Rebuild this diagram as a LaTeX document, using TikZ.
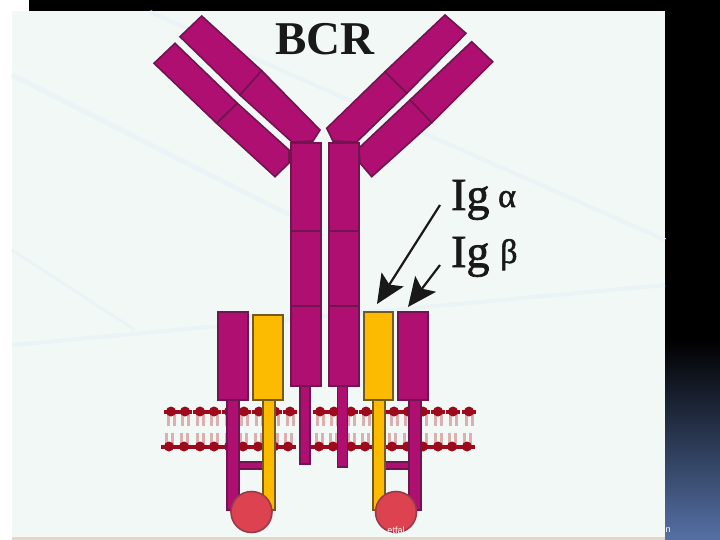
\documentclass[tikz,border=0pt]{standalone}
\usepackage{fontspec}
\setmainfont{Liberation Serif}
\setsansfont{Liberation Sans}
\newfontfamily\fatserif[FakeBold=1.6]{Liberation Serif}
\usetikzlibrary{arrows.meta,calc}
\definecolor{panel}{HTML}{F2F8F6}
\definecolor{streak}{HTML}{EAF3F5}
\definecolor{mag}{HTML}{AE0F70}
\definecolor{magd}{HTML}{701550}
\definecolor{gold}{HTML}{FDBB00}
\definecolor{goldd}{HTML}{735A1C}
\definecolor{dotred}{HTML}{DC4250}
\definecolor{dotd}{HTML}{9A3A48}
\definecolor{head}{HTML}{9C0A1C}
\definecolor{tailc}{HTML}{DDB0B0}
\definecolor{deck}{HTML}{5570A5}
\tikzset{
  x=1pt,y=-1pt,
  magbox/.style={draw=magd,fill=mag,line width=1.6pt},
  goldbox/.style={draw=goldd,fill=gold,line width=1.6pt},
  block/.style={magbox,rectangle,inner sep=0pt,minimum width=#1},
  pn/.style={draw=none,fill=none,inner sep=0pt,font=\fatserif\fontsize{46}{46}\selectfont,text=black!90},
  titlelab/.style={draw=none,fill=none,inner sep=0pt,font=\bfseries\fontsize{47}{47}\selectfont,text=black!90},
  greek/.style={draw=none,fill=none,inner sep=0pt,font=\fatserif\fontsize{34}{34}\selectfont,text=black!90},
  pointer/.style={draw=black!90,line width=2.2pt,-{Stealth[length=29pt,width=26pt,inset=6pt]}},
  dot/.style={circle,draw=dotd,fill=dotred,line width=1.6pt,minimum size=41pt,inner sep=0pt},
  lipidhead/.style={fill=head,draw=none},
  lipidtail/.style={draw=tailc,line width=3pt},
  mark text/.style={draw=none,fill=none,inner sep=0pt,text=white,font=\sffamily\fontsize{9}{9}\selectfont},
}
\begin{document}
\begin{tikzpicture}
\useasboundingbox (0,0) rectangle (720,540);
% slide
\fill[white] (0,0) rectangle (720,540);
\fill[black] (29,0) rectangle (720,340);
\shade[top color=black,bottom color=deck] (665,340) rectangle (720,540);
\fill[panel] (12,11) rectangle (665,537);
\fill[black!12!white!90!orange] (12,537) rectangle (665,540);
% faint streaks
\draw[streak,line width=5pt] (12,75) -- (290,215);
\draw[streak,line width=4pt] (150,12) -- (665,240);
\draw[streak,line width=4pt] (12,345) -- (665,285);
\draw[streak,line width=3pt] (12,250) -- (135,330);
% membrane
\foreach \x in {171,185,200,214,229,244,259,275,290,320,334,351,366,380,394,408,423,438,453,469}{
  \draw[lipidtail] (\x-3,414) -- (\x-3,426);
  \draw[lipidtail] (\x+3,414) -- (\x+3,426);
  \fill[lipidhead] (\x,411.5) circle (5pt);
  \fill[lipidhead] (\x-7,409.5) rectangle (\x+7,413.5);
}
\foreach \x in {169,184,200,214,229,243,258,274,288,319,333,351,365,380,392,407,423,438,452,467}{
  \draw[lipidtail] (\x-3,433) -- (\x-3,445);
  \draw[lipidtail] (\x+3,433) -- (\x+3,445);
  \fill[lipidhead] (\x,446.5) circle (5pt);
  \fill[lipidhead] (\x-8,444.5) rectangle (\x+8,448.5);
}
% Fab arms
\draw[magbox] (175,43.3) -- (237.3,103.3) -- (216.7,123.3) -- (154,63.3) -- cycle;
\draw[magbox] (237.3,103.3) -- (289,150) -- (289,163) -- (275,176.7) -- (216.7,123.3) -- cycle;
\draw[magbox] (201.7,16) -- (261.7,70.7) -- (240,95) -- (180,36.7) -- cycle;
\draw[magbox] (261.7,70.7) -- (320,130) -- (313,141) -- (292,142) -- (240,95) -- cycle;
\draw[magbox] (471.7,41.7) -- (492.7,61.7) -- (431.7,122.7) -- (410,100) -- cycle;
\draw[magbox] (410,100) -- (431.7,122.7) -- (371.7,176.7) -- (360,163) -- (359,148) -- cycle;
\draw[magbox] (445,15) -- (466,33.3) -- (406.7,93.3) -- (385,71.7) -- cycle;
\draw[magbox] (385,71.7) -- (406.7,93.3) -- (356.7,142) -- (333,141) -- (326.7,128.3) -- cycle;
% transmembrane tails of the heavy chains
\node[block=10pt,minimum height=79pt,anchor=north] (stubL) at (305,384) {};
\node[block=10pt,minimum height=82pt,anchor=north] (stubR) at (342.5,384) {};
% heavy chain domains
\node[block=30pt,minimum height=88pt,anchor=north] (tL1) at (306,142) {};
\node[block=30pt,minimum height=75pt,anchor=north] (tL2) at (306,230) {};
\node[block=30pt,minimum height=80pt,anchor=north] (tL3) at (306,305) {};
\node[block=30pt,minimum height=88pt,anchor=north] (tR1) at (344,142) {};
\node[block=30pt,minimum height=75pt,anchor=north] (tR2) at (344,230) {};
\node[block=30pt,minimum height=80pt,anchor=north] (tR3) at (344,305) {};
% Ig tails and links
\fill[magbox] (239,462) rectangle (263,469);
\fill[magbox] (385,462) rectangle (409,469);
\draw[magbox] (227,399) rectangle (239,510);
\draw[goldbox] (263,399) rectangle (275,510);
\draw[goldbox] (373,399) rectangle (385,510);
\draw[magbox] (409,399) rectangle (421,510);
% Ig boxes
\node[block=30pt,minimum height=88pt,anchor=north] (bL) at (233,311) {};
\node[goldbox,rectangle,inner sep=0pt,minimum width=30pt,minimum height=85pt,anchor=north] (aL) at (268,314) {};
\node[goldbox,rectangle,inner sep=0pt,minimum width=29pt,minimum height=88pt,anchor=north] (aR) at (378.5,311) {};
\node[block=30pt,minimum height=88pt,anchor=north] (bR) at (413,311) {};
% ITAM dots
\node[dot] (dL) at (251.5,512) {};
\node[dot] (dR) at (396,512) {};
% labels
\node[titlelab] (bcr) at (325,39) {BCR};
\node[pn,anchor=base west] (iga) at (451,210) {Ig};
\node[greek,anchor=base west] (alpha) at (498,207) {α};
\node[pn,anchor=base west] (igb) at (451,267) {Ig};
\node[greek,anchor=base west] (beta) at (500,263) {β};
\node[mark text] (markA) at (396,530) {etfal};
\node[mark text] (markB) at (668,530) {n};
\coordinate (fromA) at (440,205);
\coordinate (fromB) at (440,265);
\coordinate (tipA) at (377,304);
\coordinate (tipB) at (408,307);
\path[pointer] (fromA) -- (tipA);
\path[pointer] (fromB) -- (tipB);
\end{tikzpicture}
\end{document}
